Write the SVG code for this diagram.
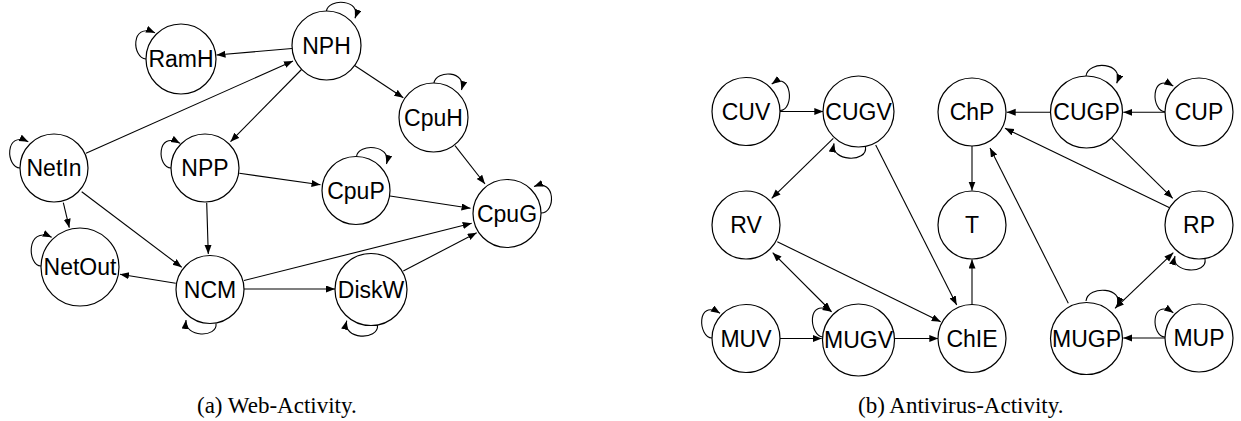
<svg xmlns="http://www.w3.org/2000/svg" width="1241" height="421" viewBox="0 0 1241 421">
<style>
.node circle{fill:#fff;stroke:#000;stroke-width:1.2}
.node text{font-family:"Liberation Sans",Arial,sans-serif;font-size:23px;text-anchor:middle;fill:#000}
.edges path{fill:none;stroke:#000;stroke-width:1.1;marker-end:url(#ah)}
.edges path.both{marker-start:url(#ah)}
.cap{font-family:"Liberation Serif","Times New Roman",serif;font-size:23px;fill:#000}
</style>
<defs>
<marker id="ah" markerUnits="userSpaceOnUse" markerWidth="10" markerHeight="8" refX="9" refY="3.5" orient="auto-start-reverse">
<path d="M0,0 L9,3.5 L0,7 z" fill="#000"/>
</marker>
</defs>
<rect width="1241" height="421" fill="#fff"/>
<g id="connectors" class="edges">
<!-- left graph -->
<path d="M292,48.5 L216.5,55"/>
<path d="M86,153.3 L293,61"/>
<path d="M302,69 L230.5,141.7"/>
<path d="M355,65.7 L403.3,97.7"/>
<path d="M455,145.7 L485,184"/>
<path d="M239.3,173.3 L320.5,184.8"/>
<path d="M390,196 L470.5,208.3"/>
<path d="M244,280.5 L471.7,223.3"/>
<path d="M403.3,271 L476.7,232.7"/>
<path d="M206.7,202.7 L208.3,254"/>
<path d="M81.7,191.7 L181.7,267.3"/>
<path d="M63.3,202.7 L69.3,227.7"/>
<path d="M175.7,283.3 L120,274.3"/>
<path d="M244,289 L335,289"/>
<!-- left self loops -->
<path d="M146,59 C132,58 130,22 155,32.7"/>
<path d="M326.5,11 C328,-2 362,-1 355,18.3"/>
<path d="M434,83 C436,70 467,70 461.5,90"/>
<path d="M356.5,156.5 C358,143 392,144 386.5,164"/>
<path d="M541,213 C556,213 556,178 534,186.5"/>
<path d="M20,168 C6,168 4,130 28.3,141.7"/>
<path d="M171,168 C157,168 156,130 180,143.3"/>
<path d="M41,266 C27,266 26,225 51.7,237.3"/>
<path d="M216,323.5 C218,338 184,338 186,320"/>
<path d="M377.5,325 C379,341 342,340 346.7,320.7"/>
<!-- right graph -->
<path d="M780,111.5 L823.3,111.5"/>
<path d="M833.3,138.3 L771.7,198.3"/>
<path d="M875.7,145 L956.7,305"/>
<path d="M972,146 L972,190.5"/>
<path d="M972,304.5 L972,259.5"/>
<path d="M1050.7,112.3 L1006.7,112.3"/>
<path d="M1165,112.3 L1123.3,112.3"/>
<path d="M1111.7,138.3 L1172.7,198.3"/>
<path d="M1169.6,207.7 L1005,128.3"/>
<path d="M1068.3,303.3 L990,148"/>
<path d="M777.3,241.7 L940.7,321.7"/>
<path class="both" d="M772.7,252.7 L831,311"/>
<path d="M780,338.5 L821.7,338.5"/>
<path d="M894.5,338.5 L938.3,338.5"/>
<path class="both" d="M1115,308.3 L1173.3,252.7"/>
<path d="M1165,338 L1123.3,338"/>
<!-- right self loops -->
<path d="M780,110.5 C795,110 792,70 771.7,84"/>
<path d="M865.5,147 C868,163 830,162 834,143.3"/>
<path d="M1086,76 C1088,60 1125,62 1116.7,83.3"/>
<path d="M1165,111.7 C1151,111 1150,72 1173.3,86"/>
<path d="M1205,259 C1208,275 1170,273 1175,256"/>
<path d="M1086,301 C1088,285 1125,287 1117,306"/>
<path d="M1165,337 C1151,337 1150,297 1173.3,312.7"/>
<path d="M712,338 C698,338 696,298 720,313.3"/>
<path d="M823,337 C809,336 806,296 831.7,311.7"/>
</g>
<!-- left nodes -->
<g id="RamH" class="node"><circle cx="181" cy="59" r="35"/><text x="181" y="67">RamH</text></g>
<g id="NPH" class="node"><circle cx="326.5" cy="45.5" r="34.5"/><text x="326.5" y="54">NPH</text></g>
<g id="NetIn" class="node"><circle cx="54" cy="168" r="34"/><text x="54" y="176">NetIn</text></g>
<g id="NPP" class="node"><circle cx="205" cy="168" r="34"/><text x="205" y="176">NPP</text></g>
<g id="CpuH" class="node"><circle cx="433.5" cy="117.5" r="34.5"/><text x="433.5" y="126">CpuH</text></g>
<g id="CpuP" class="node"><circle cx="356" cy="190.5" r="34"/><text x="356" y="198.5">CpuP</text></g>
<g id="CpuG" class="node"><circle cx="507" cy="213.5" r="34"/><text x="507" y="221.5">CpuG</text></g>
<g id="NetOut" class="node"><circle cx="80" cy="267" r="39"/><text x="80" y="275">NetOut</text></g>
<g id="NCM" class="node"><circle cx="210" cy="289.5" r="34"/><text x="210" y="297.5">NCM</text></g>
<g id="DiskW" class="node"><circle cx="371" cy="289.5" r="36"/><text x="371" y="297.5">DiskW</text></g>
<!-- right nodes -->
<g id="CUV" class="node"><circle cx="746" cy="111.5" r="34"/><text x="746" y="119.5">CUV</text></g>
<g id="CUGV" class="node"><circle cx="858.5" cy="111.5" r="35.5"/><text x="858.5" y="119.5">CUGV</text></g>
<g id="ChP" class="node"><circle cx="972" cy="112" r="34"/><text x="972" y="120">ChP</text></g>
<g id="CUGP" class="node"><circle cx="1086.5" cy="112" r="36"/><text x="1086.5" y="120">CUGP</text></g>
<g id="CUP" class="node"><circle cx="1199" cy="112" r="34"/><text x="1199" y="120">CUP</text></g>
<g id="RV" class="node"><circle cx="746" cy="225" r="34"/><text x="746" y="233">RV</text></g>
<g id="T" class="node"><circle cx="972" cy="225" r="34"/><text x="972" y="233">T</text></g>
<g id="RP" class="node"><circle cx="1199" cy="225" r="34"/><text x="1199" y="233">RP</text></g>
<g id="MUV" class="node"><circle cx="746" cy="338.5" r="34"/><text x="746" y="346.5">MUV</text></g>
<g id="MUGV" class="node"><circle cx="858.5" cy="340" r="36"/><text x="858.5" y="348">MUGV</text></g>
<g id="ChIE" class="node"><circle cx="972" cy="338.5" r="34"/><text x="972" y="346.5">ChIE</text></g>
<g id="MUGP" class="node"><circle cx="1086.5" cy="338.5" r="36"/><text x="1086.5" y="346.5">MUGP</text></g>
<g id="MUP" class="node"><circle cx="1199" cy="338" r="34"/><text x="1199" y="346">MUP</text></g>
<text class="cap" x="197" y="413">(a) Web-Activity.</text>
<text class="cap" x="858" y="413">(b) Antivirus-Activity.</text>
</svg>
